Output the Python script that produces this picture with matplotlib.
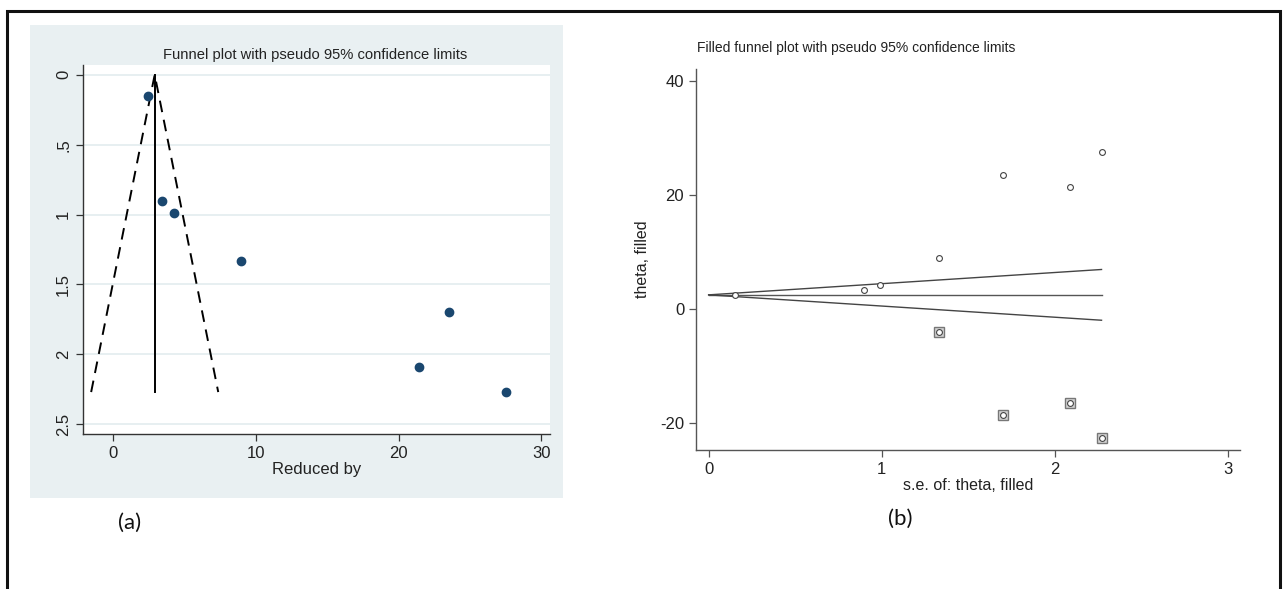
import numpy as np
import matplotlib
matplotlib.use("Agg")
import matplotlib.pyplot as plt
from matplotlib.patches import Rectangle

plt.rcParams['font.family'] = ['Liberation Sans', 'DejaVu Sans']
plt.rcParams['axes.unicode_minus'] = False

# study estimates (effect) and their standard errors
reduced_by = [2.45, 3.43, 4.27, 8.95, 23.5, 21.4, 27.55]
se_study = [0.15, 0.90, 0.99, 1.33, 1.70, 2.09, 2.27]
pooled_fixed = 2.92

# trim-and-fill: imputed studies and filled pooled estimate
se_filled = [1.33, 1.70, 2.09, 2.27]
theta_filled = [-4.0, -18.5, -16.4, -22.6]
pooled_filled = 2.5

W, H = 1285, 589
fig = plt.figure(figsize=(W / 100, H / 100), dpi=100)

def fx(px):
    return px / W

def fy(py):
    return 1 - py / H

# outer frame
fig.patches.append(Rectangle((fx(7), -0.1), fx(1280) - fx(7), fy(11) + 0.1,
                             fill=False, lw=2.2, ec='#111111',
                             transform=fig.transFigure, figure=fig, zorder=-5))
# stata graph region for panel (a)
fig.patches.append(Rectangle((fx(30), fy(498)), fx(563) - fx(30), fy(25) - fy(498),
                             fc='#e9f0f2', ec='none',
                             transform=fig.transFigure, figure=fig, zorder=-10))

navy = '#1a476f'
axcol = '#333333'

# ---- (a) funnel plot ----
ax1 = fig.add_axes([fx(83), fy(434), fx(550) - fx(83), fy(65) - fy(434)])
ax1.set_facecolor('white')
ax1.set_xlim(-2.1, 30.6)
ax1.set_ylim(2.57, -0.07)
for s in ['top', 'right']:
    ax1.spines[s].set_visible(False)
for s in ['left', 'bottom']:
    ax1.spines[s].set_color(axcol)
    ax1.spines[s].set_linewidth(1.0)
ax1.set_yticks([0, 0.5, 1, 1.5, 2, 2.5])
ax1.set_yticklabels(['0', '.5', '1', '1.5', '2', '2.5'], rotation=90, va='center')
ax1.set_xticks([0, 10, 20, 30])
ax1.tick_params(colors=axcol, labelcolor='#222222', labelsize=12, length=5, width=0.9)
ax1.grid(axis='y', color='#e3ecef', lw=1.2)
ax1.set_axisbelow(True)

se_max = max(se_study)
ax1.plot([pooled_fixed, pooled_fixed], [0, se_max], color='black', lw=1.4)
ax1.plot([pooled_fixed - 1.96 * se_max, pooled_fixed, pooled_fixed + 1.96 * se_max],
         [se_max, 0, se_max], color='black', lw=1.4, ls=(0, (6, 4)))
ax1.plot(reduced_by, se_study, 'o', color=navy, ms=6, zorder=5)
ax1.set_xlabel('Reduced by', fontsize=12, color='#222222', labelpad=1)
fig.text(fx(315), fy(55), 'Funnel plot with pseudo 95% confidence limits',
         ha='center', va='center', fontsize=10.6, color='#222222')

# ---- (b) filled funnel plot ----
ax2 = fig.add_axes([fx(696), fy(450), fx(1240) - fx(696), fy(69) - fy(450)])
ax2.set_xlim(-0.073, 3.07)
ax2.set_ylim(-24.7, 42.1)
for s in ['top', 'right']:
    ax2.spines[s].set_visible(False)
for s in ['left', 'bottom']:
    ax2.spines[s].set_color('#555555')
    ax2.spines[s].set_linewidth(1.0)
ax2.set_xticks([0, 1, 2, 3])
ax2.set_yticks([-20, 0, 20, 40])
ax2.tick_params(colors='#555555', labelcolor='#222222', labelsize=12, length=5, width=0.9)

se_line = [0, se_max]
ax2.plot(se_line, [pooled_filled, pooled_filled], color='#555555', lw=1.0)
ax2.plot(se_line, [pooled_filled, pooled_filled + 1.96 * se_max], color='#444444', lw=1.0)
ax2.plot(se_line, [pooled_filled, pooled_filled - 1.96 * se_max], color='#444444', lw=1.0)
ax2.plot(se_filled, theta_filled, 's', ms=7.5, mfc='#d4d4d4', mec='#777777', mew=1.0)
ax2.plot(se_filled + se_study, theta_filled + reduced_by, 'o', ms=4.2,
         mfc='white', mec='#444444', mew=0.8, ls='none')
ax2.set_xlabel('s.e. of: theta, filled', fontsize=11.5, color='#222222', labelpad=1)
ax2.set_ylabel('theta, filled', fontsize=11.5, color='#222222', labelpad=7)
fig.text(fx(697), fy(48), 'Filled funnel plot with pseudo 95% confidence limits',
         ha='left', va='center', fontsize=10, color='#222222')

# panel labels
fig.text(fx(130), fy(523), '(a)', ha='center', va='center', fontsize=16,
         family=['Lato', 'DejaVu Sans'], color='#111111')
fig.text(fx(900), fy(519), '(b)', ha='center', va='center', fontsize=16,
         family=['Lato', 'DejaVu Sans'], color='#111111')

fig.savefig('out.png', dpi=100)
